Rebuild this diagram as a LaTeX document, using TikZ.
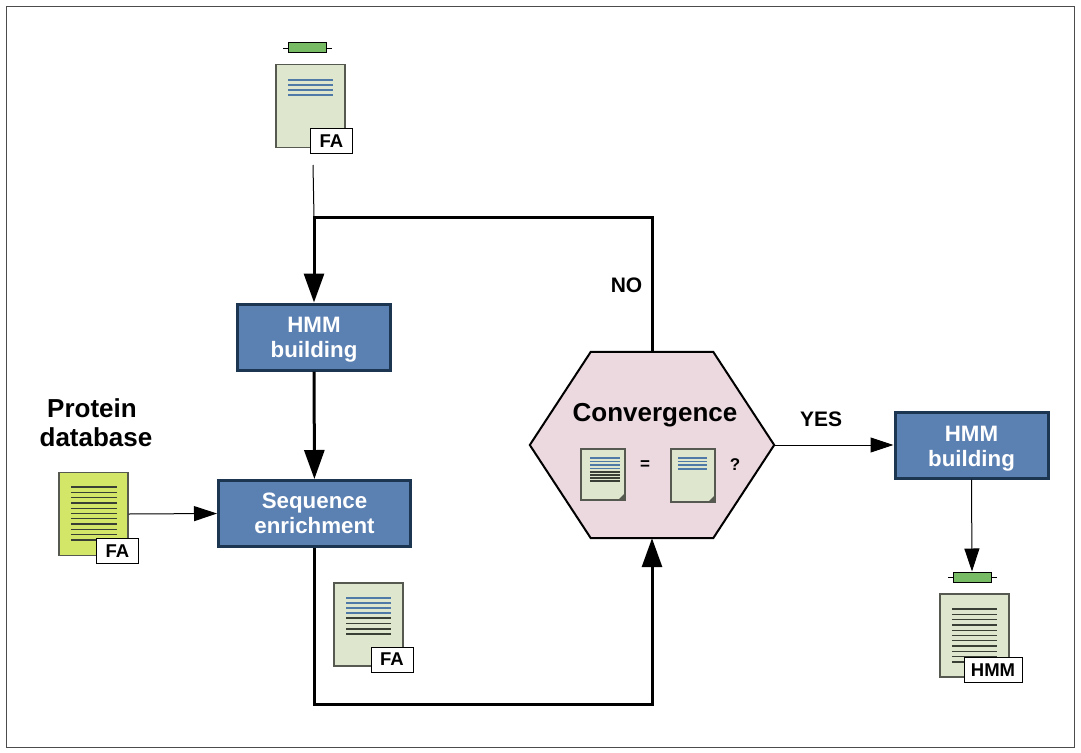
\documentclass[tikz,border=0pt]{standalone}
\usepackage{fontspec}
\setmainfont{Liberation Sans}
\usetikzlibrary{positioning, arrows.meta}
\definecolor{boxblue}{HTML}{5B80B2}
\definecolor{boxedge}{HTML}{1C3550}
\definecolor{hexpink}{HTML}{ECD9DF}
\definecolor{docgreen}{HTML}{DEE6CD}
\definecolor{docyellow}{HTML}{D4E667}
\definecolor{docedge}{HTML}{555950}
\definecolor{genegreen}{HTML}{77BC65}
\definecolor{lineblue}{HTML}{4F79A6}
\definecolor{linedark}{HTML}{3A3F35}
\newcommand{\liftline}[1]{\rule{0pt}{#1}}
\begin{document}
\begin{tikzpicture}[
    x=1pt, y=-1pt,
    every node/.style={font=\bfseries},
    stepbox/.style={draw=boxedge, line width=3pt, fill=boxblue, text=white, font=\fontsize{22.3}{25}\selectfont\bfseries, align=center, minimum height=66pt, inner sep=0pt},
    docbox/.style={draw=docedge, line width=1.4pt, fill=#1, minimum width=69pt, minimum height=83pt, inner sep=0pt},
    minidoc/.style={draw=docedge, line width=1.2pt, fill=docgreen, minimum width=44pt, minimum height=#1, inner sep=0pt},
    tagbox/.style={draw=black, line width=0.9pt, fill=white, font=\fontsize{18.5}{20}\selectfont\bfseries, minimum height=25pt, inner sep=0pt},
    genebox/.style={draw=black, line width=1pt, fill=genegreen, minimum width=38pt, minimum height=10pt, inner sep=0pt},
    biglabel/.style={font=\fontsize{26}{29}\selectfont\bfseries, align=center},
    flowlabel/.style={font=\fontsize{21}{25}\selectfont\bfseries},
    mainline/.style={line width=3pt, -{Triangle[length=29pt,width=20pt]}},
    thinline/.style={draw=black, line width=1pt, -{Triangle[length=23pt,width=15pt]}},
  ]
  % frame
  \node[draw=black!70, line width=1pt, minimum width=1068pt, minimum height=740pt, inner sep=0pt] (frame) at (540.5,377) {};
  \useasboundingbox (0,0) rectangle (1081,752);

  % input family
  \node[docbox=docgreen] (seed) at (310.5,106) {};
  \foreach \y in {80,85,90,95}
    \draw[lineblue, line width=1.3pt] (288,\y) -- (333,\y);
  \node[tagbox, minimum width=42pt] (seedtag) at (331.5,141) {FA};
  \node[genebox] (seedgene) at (307.5,48) {};
  \draw[line width=0.8pt] (seedgene.west) -- ++(-5,0) (seedgene.east) -- ++(5,0);

  % database
  \node[biglabel] (dblabel) at (96,423) {Protein\hspace{8pt}\mbox{}\\[0pt]database};
  \node[docbox=docyellow] (db) at (93.5,514) {};
  \foreach \y in {487,492.3,...,541}
    \draw[linedark, line width=1.3pt] (71,\y) -- (117,\y);
  \node[tagbox, minimum width=42pt] (dbtag) at (117.5,551) {FA};

  % main boxes
  \node[stepbox, minimum width=153pt] (hmm) at (314,337) {\liftline{20pt}HMM\\building};
  \node[stepbox, minimum width=192pt] (enrich) at (314.5,513.5) {Sequence\\enrichment};
  \node[stepbox, minimum width=153pt] (final) at (971.5,445) {\liftline{22pt}HMM\\building};

  % enriched hits
  \node[docbox=docgreen] (hits) at (368.5,624.5) {};
  \foreach \y in {598,603,608,613}
    \draw[lineblue, line width=1.3pt] (346,\y) -- (391,\y);
  \foreach \y in {618,623.5,629,634}
    \draw[linedark, line width=1.3pt] (346,\y) -- (391,\y);
  \node[tagbox, minimum width=42pt] (hitstag) at (392,659.5) {FA};

  % convergence
  \node[minimum width=244pt, minimum height=186pt, inner sep=0pt] (conv) at (652,445) {};
  \draw[black, line width=2pt, fill=hexpink] (conv.west) -- ([xshift=61pt]conv.north west) -- ([xshift=-61pt]conv.north east) -- (conv.east) -- ([xshift=-61pt]conv.south east) -- ([xshift=61pt]conv.south west) -- cycle;
  \node[biglabel] (convlabel) at (655,415) {Convergence};
  \node[minidoc=51pt] (left) at (603,474.5) {};
  \fill[docedge] (625,493) -- (625,500) -- (618,500) -- cycle;
  \foreach \y in {458,461.5,465,468.5}
    \draw[lineblue, line width=1.1pt] (590,\y) -- (620,\y);
  \foreach \y in {472,475,478,481}
    \draw[linedark, line width=1.1pt] (590,\y) -- (620,\y);
  \node[minidoc=53pt] (right) at (693,475.5) {};
  \fill[docedge] (715,495) -- (715,502) -- (708,502) -- cycle;
  \foreach \y in {458,461.5,465,469}
    \draw[lineblue, line width=1.1pt] (678,\y) -- (707,\y);
  \node[font=\fontsize{17}{20}\selectfont\bfseries] (eq) at (645,465) {=};
  \node[font=\fontsize{17}{20}\selectfont\bfseries] (qm) at (735,465) {?};

  % output profile
  \node[docbox=docgreen] (profile) at (974.5,635.5) {};
  \foreach \y in {609,614.3,...,663}
    \draw[linedark, line width=1.3pt] (952,\y) -- (997,\y);
  \node[tagbox, minimum width=58pt] (profiletag) at (993,670) {HMM};
  \node[genebox] (profilegene) at (972,577) {};
  \draw[line width=0.8pt] (profilegene.west) -- ++(-5,0) (profilegene.east) -- ++(5,0);

  % connectors
  \coordinate (seedout) at (313,165);
  \coordinate (loopin) at (314,217);
  \draw[draw=black, line width=1pt] (seedout) -- (loopin);
  \draw[mainline] (conv.north) |- (loopin) -- (hmm.north);
  \draw[mainline] (hmm) -- (enrich);
  \draw[mainline] (enrich.south) -- ++(0,156.5) -| (conv.south);
  \draw[thinline] (db.east) -- (enrich.west);
  \draw[thinline] (conv.east) -- (final.west);
  \draw[thinline] (final.south) -- (profilegene.north);

  \node[flowlabel] (nolabel) at (626.5,285) {NO};
  \node[flowlabel] (yeslabel) at (821,419) {YES};
\end{tikzpicture}
\end{document}
